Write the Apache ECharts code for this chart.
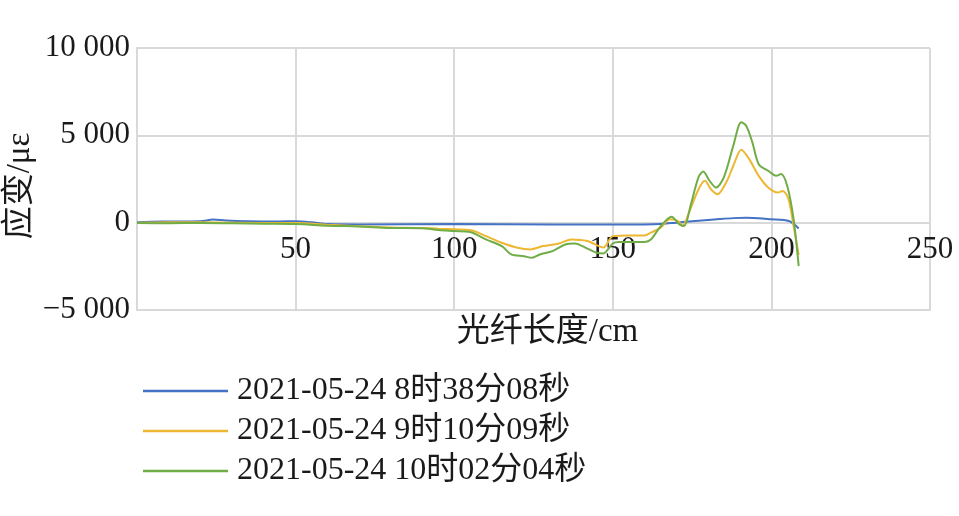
<!DOCTYPE html>
<html>
<head>
<meta charset="utf-8">
<script src="https://cdn.jsdelivr.net/npm/echarts@6/dist/echarts.min.js"></script>
<style>
  html, body { margin: 0; padding: 0; background: #fff; }
  #chart { width: 959px; height: 516px; }
</style>
</head>
<body>
<div id="chart"></div>
<script>
// series names
var names = ['2021-05-24 8时38分08秒', '2021-05-24 9时10分09秒', '2021-05-24 10时02分04秒'];

// 8:38 (blue)
var blueX = [0, 8, 20, 24, 28, 35, 45, 50, 55, 60, 70, 100, 130, 160, 165, 170, 176, 182, 188, 192, 196, 200, 204, 206, 208.6];
var blueY = [30, 60, 80, 180, 120, 80, 70, 80, 20, -80, -100, -80, -100, -100, -80, 0, 100, 180, 260, 280, 250, 200, 150, 60, -330];

// 9:10 (yellow)
var yellowX = [0, 10, 20, 30, 40, 50, 60, 70, 80, 90, 95, 100, 105, 110, 115, 120, 124, 128, 133, 137, 142, 147, 150, 155, 160, 162, 165, 168, 170.5, 172, 174, 177, 179, 181, 183, 186, 188, 190.5, 193, 196, 199, 202, 203.6, 205.4, 207, 208.6];
var yellowY = [0, 30, 20, 0, -20, -20, -120, -200, -270, -300, -345, -380, -420, -770, -1150, -1440, -1530, -1340, -1190, -960, -1050, -1420, -770, -730, -730, -570, -300, 190, 100, -190, 570, 1900, 2400, 1900, 1630, 2400, 3260, 4180, 3640, 2680, 2010, 1720, 1820, 1340, -190, -1850];

// 10:02 (green)
var greenX = [0, 10, 20, 30, 40, 50, 60, 70, 80, 90, 95, 100, 105, 110, 115, 118, 122, 124.5, 127, 131, 135, 138, 142, 145, 147, 150, 152, 160, 162, 165, 168.5, 171, 172.5, 174.5, 177, 178.5, 180.5, 182.5, 185, 188, 190.5, 192, 194, 196, 199, 201.5, 203, 205, 207, 208.6];
var greenY = [-20, -30, -20, -40, -60, -80, -170, -220, -300, -320, -420, -480, -540, -960, -1340, -1820, -1920, -2010, -1820, -1630, -1250, -1190, -1490, -1720, -1760, -1190, -1110, -1100, -960, -230, 340, -100, -190, 960, 2590, 2930, 2400, 2010, 2590, 4410, 5750, 5560, 4600, 3350, 2970, 2680, 2780, 2100, 190, -2490];

var colors = ['#4472C4', '#EDB732', '#70AD47'];
var font = "'Liberation Serif', 'Times New Roman', 'Noto Sans CJK SC', serif";

function pairs(xs, ys) {
  return xs.map(function (x, i) { return [x, ys[i]]; });
}

function fmtY(v) {
  var s = Math.abs(v).toString().replace(/\B(?=(\d{3})+(?!\d))/g, ' ');
  return (v < 0 ? '\u2212' : '') + s;
}

var chart = echarts.init(document.getElementById('chart'));
var gridColor = '#d9d9d9';

chart.setOption({
  animation: false,
  color: colors,
  textStyle: { fontFamily: font, color: '#1a1a1a' },
  grid: { left: 137, right: 29, top: 48, bottom: 206, containLabel: false, outerBoundsMode: 'none' },
  legend: {
    orient: 'vertical',
    left: 138,
    top: 370,
    icon: 'rect',
    itemWidth: 85,
    itemHeight: 2.5,
    itemGap: 8,
    data: names,
    textStyle: { fontFamily: font, fontSize: 32, color: '#1a1a1a', padding: [0, 0, 0, 4] }
  },
  xAxis: {
    type: 'value',
    min: 0,
    max: 250,
    interval: 50,
    name: '光纤长度/cm',
    nameLocation: 'middle',
    nameGap: 6,
    nameMoveOverlap: false,
    nameTextStyle: { fontFamily: font, fontSize: 33, color: '#1a1a1a', padding: [0, 0, 0, 28] },
    axisLine: { show: true, onZero: false, lineStyle: { color: gridColor, width: 2 } },
    axisTick: { show: false },
    // labels sit just under the zero line, as in the source figure
    axisLabel: { showMinLabel: false, fontSize: 31, color: '#1a1a1a', margin: -76, fontFamily: font },
    splitLine: { show: true, lineStyle: { color: gridColor, width: 2 } }
  },
  yAxis: {
    type: 'value',
    min: -5000,
    max: 10000,
    interval: 5000,
    name: '应变/με',
    nameLocation: 'middle',
    nameGap: 100,
    nameMoveOverlap: false,
    nameTextStyle: { fontFamily: font, fontSize: 33, color: '#1a1a1a', padding: [0, 14, 0, 0] },
    axisLine: { show: true, onZero: false, lineStyle: { color: gridColor, width: 2 } },
    axisTick: { show: false },
    axisLabel: { fontSize: 31, color: '#1a1a1a', margin: 7, fontFamily: font, formatter: fmtY },
    splitLine: { show: true, lineStyle: { color: gridColor, width: 2 } }
  },
  series: [
    { name: names[0], type: 'line', data: pairs(blueX, blueY), smooth: 0.3, showSymbol: false, lineStyle: { width: 2 } },
    { name: names[1], type: 'line', data: pairs(yellowX, yellowY), smooth: 0.3, showSymbol: false, lineStyle: { width: 2 } },
    { name: names[2], type: 'line', data: pairs(greenX, greenY), smooth: 0.3, showSymbol: false, lineStyle: { width: 2 } }
  ]
});
</script>
</body>
</html>
